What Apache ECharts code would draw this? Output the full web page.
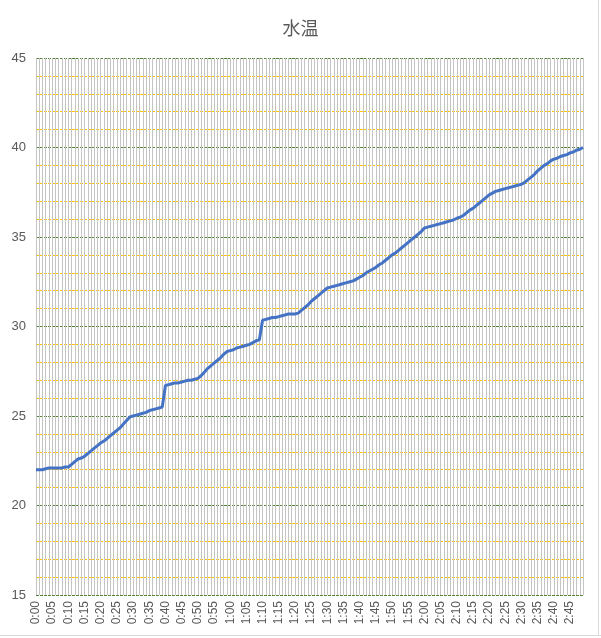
<!DOCTYPE html>
<html>
<head>
<meta charset="utf-8">
<script src="https://cdn.jsdelivr.net/npm/echarts@6/dist/echarts.min.js"></script>
<style>
html,body{margin:0;padding:0;background:#fff;}
#c{width:601px;height:638px;}
</style>
</head>
<body>
<div id="c"></div>
<script>
const titleText = "水温";
const times = [
"0:00","0:01","0:02","0:03","0:04","0:05","0:06","0:07","0:08","0:09",
"0:10","0:11","0:12","0:13","0:14","0:15","0:16","0:17","0:18","0:19",
"0:20","0:21","0:22","0:23","0:24","0:25","0:26","0:27","0:28","0:29",
"0:30","0:31","0:32","0:33","0:34","0:35","0:36","0:37","0:38","0:39",
"0:40","0:41","0:42","0:43","0:44","0:45","0:46","0:47","0:48","0:49",
"0:50","0:51","0:52","0:53","0:54","0:55","0:56","0:57","0:58","0:59",
"1:00","1:01","1:02","1:03","1:04","1:05","1:06","1:07","1:08","1:09",
"1:10","1:11","1:12","1:13","1:14","1:15","1:16","1:17","1:18","1:19",
"1:20","1:21","1:22","1:23","1:24","1:25","1:26","1:27","1:28","1:29",
"1:30","1:31","1:32","1:33","1:34","1:35","1:36","1:37","1:38","1:39",
"1:40","1:41","1:42","1:43","1:44","1:45","1:46","1:47","1:48","1:49",
"1:50","1:51","1:52","1:53","1:54","1:55","1:56","1:57","1:58","1:59",
"2:00","2:01","2:02","2:03","2:04","2:05","2:06","2:07","2:08","2:09",
"2:10","2:11","2:12","2:13","2:14","2:15","2:16","2:17","2:18","2:19",
"2:20","2:21","2:22","2:23","2:24","2:25","2:26","2:27","2:28","2:29",
"2:30","2:31","2:32","2:33","2:34","2:35","2:36","2:37","2:38","2:39",
"2:40","2:41","2:42","2:43","2:44","2:45","2:46","2:47","2:48","2:49"
];
const waterTemp = [
22.0,22.0,22.0,22.05,22.1,22.1,22.1,22.1,22.1,22.15,
22.15,22.3,22.45,22.6,22.65,22.75,22.9,23.05,23.2,23.35,
23.5,23.6,23.75,23.9,24.05,24.2,24.35,24.55,24.75,24.95,
25.0,25.05,25.1,25.15,25.2,25.3,25.35,25.4,25.45,25.5,
26.7,26.75,26.8,26.85,26.85,26.9,26.95,27.0,27.0,27.05,
27.1,27.25,27.45,27.65,27.8,27.95,28.1,28.25,28.45,28.6,
28.65,28.7,28.8,28.85,28.9,28.95,29.0,29.1,29.2,29.25,
30.35,30.4,30.45,30.5,30.5,30.55,30.6,30.65,30.7,30.7,
30.7,30.75,30.9,31.05,31.2,31.4,31.55,31.7,31.85,32.0,
32.15,32.2,32.25,32.3,32.35,32.4,32.45,32.5,32.55,32.65,
32.75,32.85,33.0,33.1,33.2,33.3,33.45,33.55,33.7,33.85,
34.0,34.1,34.25,34.4,34.55,34.7,34.85,35.0,35.15,35.3,
35.5,35.55,35.6,35.65,35.7,35.75,35.8,35.85,35.9,35.95,
36.05,36.1,36.2,36.35,36.5,36.6,36.75,36.9,37.05,37.2,
37.35,37.45,37.55,37.6,37.65,37.7,37.75,37.8,37.85,37.9,
37.95,38.05,38.2,38.35,38.5,38.7,38.85,39.0,39.1,39.25,
39.35,39.4,39.5,39.55,39.6,39.7,39.75,39.85,39.9,40.0
];
const yMin = 15, yMax = 45, yStep = 5;

const chart = echarts.init(document.getElementById('c'), null, {renderer:'canvas'});
chart.setOption({
  animation: false,
  backgroundColor: '#fff',
  title: {
    text: titleText, left: 'center', top: 14,
    textStyle: {fontFamily: '"Noto Sans CJK JP"', fontSize: 18, fontWeight: 'normal', color: '#595959'}
  },
  grid: {left: 36, right: 18, top: 58, bottom: 43, containLabel: false},
  xAxis: {
    type: 'category', data: times, boundaryGap: false,
    axisLine: {show: false}, axisTick: {show: false},
    axisLabel: {interval: 4, rotate: 90, color: '#595959', fontSize: 12, fontFamily: 'Liberation Sans', margin: 6},
    splitLine: {show: true, interval: 0, lineStyle: {color: '#c4c4c4', width: 1}}
  },
  yAxis: {
    type: 'value', min: yMin, max: yMax, interval: yStep,
    axisLine: {show: false}, axisTick: {show: false},
    axisLabel: {color: '#595959', fontSize: 13, fontFamily: 'Liberation Sans', margin: 10},
    splitLine: {show: true, lineStyle: {color: '#548235', type: [3, 1], width: 1}},
    minorTick: {show: false, splitNumber: 5},
    minorSplitLine: {show: true, lineStyle: {color: '#FFC000', type: [3, 1], width: 1}}
  },
  graphic: [
    {type: 'line', shape: {x1: 598.5, y1: 0, x2: 598.5, y2: 635}, style: {stroke: '#d9d9d9', lineWidth: 1}, silent: true},
    {type: 'line', shape: {x1: 0, y1: 635.5, x2: 601, y2: 635.5}, style: {stroke: '#d9d9d9', lineWidth: 1}, silent: true}
  ],
  series: [{
    type: 'line', data: waterTemp, showSymbol: false, symbol: 'none',
    lineStyle: {color: '#4472C4', width: 3}, z: 5
  }]
});
</script>
</body>
</html>
